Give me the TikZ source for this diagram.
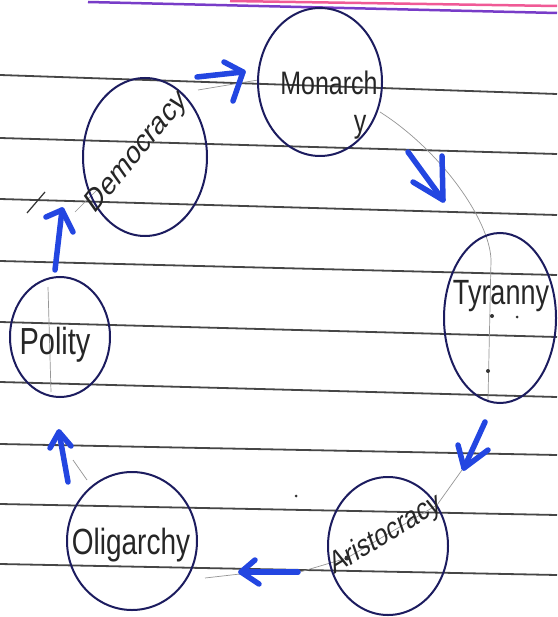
\documentclass[tikz,border=0pt]{standalone}
\usepackage{fontspec}
\setmainfont{Liberation Sans}
\usetikzlibrary{shapes.geometric,calc}
\definecolor{ink}{RGB}{28,28,95}
\definecolor{pen}{RGB}{35,70,225}
\definecolor{rulec}{RGB}{70,70,70}
\definecolor{pencil}{RGB}{150,150,150}
\definecolor{marginp}{RGB}{120,60,200}
\definecolor{marginr}{RGB}{240,90,150}
\begin{document}
\begin{tikzpicture}[x=1pt,y=-1pt,
  rulestroke/.style={draw=rulec,line width=1.8pt},
  bubble/.style={draw=ink,line width=2pt,ellipse,inner sep=0pt},
  lbl/.style={font=\fontsize{25}{27}\selectfont,inner sep=0pt,text=black!85,yscale=1.3},
  penarrow/.style={draw=pen,line width=5.5pt,line cap=round,line join=round},
  pencilline/.style={draw=pencil,line width=0.7pt}]
\useasboundingbox[fill=white] (0,0) rectangle (557,617);
% margin lines
\draw[marginr,line width=2.5pt] (230,1) -- (557,6);
\draw[marginp,line width=2.5pt] (88,2) -- (557,13);
% ruled lines
\foreach \l/\r in {75/94,138/154,199/215,261/275,322/337,382/397,444/455,504/515,564/575}
  \draw[rulestroke] (0,\l) -- (557,\r);
% pencil guide
\draw[pencilline] (198,90) -- (258,80);
\draw[pencilline] (380,112) .. controls (440,150) and (490,220) .. (491,260) -- (488,400);
\draw[pencilline] (462,470) -- (437,505) -- (347,558) -- (300,572);
\draw[pencilline] (240,574) -- (205,578);
\draw[pencilline] (73,460) -- (87,480);
\draw[pencilline] (48,287) -- (51,392);
\draw[pencilline] (75,212) -- (97,190);
% bubbles
\node[bubble,minimum width=124pt,minimum height=148pt] (mon) at (320,82) {};
\node[bubble,minimum width=124pt,minimum height=158pt] (dem) at (145,157) {};
\node[bubble,minimum width=112pt,minimum height=170pt] (tyr) at (500,318) {};
\node[bubble,minimum width=100pt,minimum height=120pt] (pol) at (60,337) {};
\node[bubble,minimum width=120pt,minimum height=138pt] (ari) at (388,546) {};
\node[bubble,minimum width=130pt,minimum height=138pt] (oli) at (132,541) {};
% labels
\node[lbl] (monL) at (329,83) {Monarch};
\node[lbl] (monY) at (360,127) {y};
\node[lbl,rotate=43] (demL) at (137,153) {Democracy};
\node[lbl,font=\fontsize{27}{29}\selectfont] (tyrL) at (501,296) {Tyranny};
\node[lbl,rotate=25,font=\fontsize{24}{26}\selectfont] (ariL) at (386,535) {Aristocracy};
\node[lbl,font=\fontsize{28}{30}\selectfont] (oliL) at (131,545) {Oligarchy};
\node[lbl,font=\fontsize{29}{31}\selectfont] (polL) at (55,345) {Polity};
% pencil dots
\foreach \p/\s in {{(492,316)}/2,{(517,317)}/1.5,{(488,371)}/2,{(347,558)}/2.5,{(296,496)}/1.5}
  \fill[black!80] \p circle[radius=\s];
% stray mark
\draw[black!80,line width=1.2pt] (27,213) -- (45,192);
% arrows
\coordinate (t1) at (197,77);  \coordinate (h1) at (243,72);
\coordinate (t2) at (408,152); \coordinate (h2) at (443,200);
\coordinate (t3) at (485,422); \coordinate (h3) at (464,468);
\coordinate (t4) at (298,572); \coordinate (h4) at (241,572);
\coordinate (t5) at (68,482);  \coordinate (h5) at (59,432);
\coordinate (t6) at (55,270);  \coordinate (h6) at (62,210);
\draw[penarrow] (t1) -- (h1);
\draw[penarrow] ($(h1)+(-19,-10)$) -- (h1) -- ($(h1)+(-10,29)$);
\draw[penarrow] (t2) -- (h2);
\draw[penarrow] ($(h2)+(-30,-18)$) -- (h2) -- ($(h2)+(-1,-44)$);
\draw[penarrow] (t3) -- (h3);
\draw[penarrow] ($(h3)+(-6,-23)$) -- (h3) -- ($(h3)+(24,-18)$);
\draw[penarrow] (t4) -- (h4);
\draw[penarrow] ($(h4)+(14,-12)$) -- (h4) -- ($(h4)+(18,12)$);
\draw[penarrow] (t5) -- (h5);
\draw[penarrow] ($(h5)+(-9,16)$) -- (h5) -- ($(h5)+(12,14)$);
\draw[penarrow] (t6) -- (h6);
\draw[penarrow] ($(h6)+(-16,7)$) -- (h6) -- ($(h6)+(11,22)$);
\end{tikzpicture}
\end{document}
